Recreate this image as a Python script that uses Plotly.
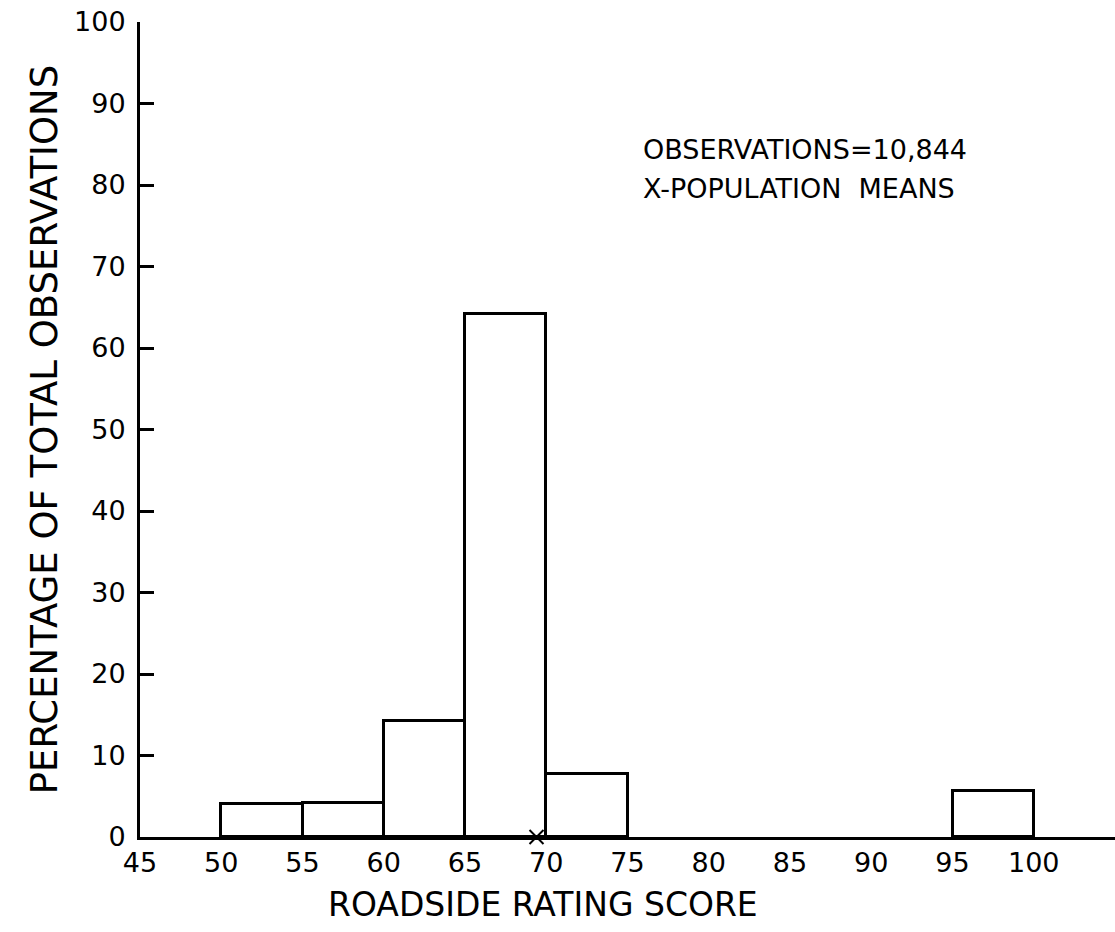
import plotly.graph_objects as go

# histogram bins (left edge, width 5) and percentage of observations
bin_start = [50, 55, 60, 65, 70, 95]
bin_width = 5
percent = [4.0, 4.2, 14.2, 64.2, 7.7, 5.7]

# population mean marker
mean_score = [69.4]
mean_level = [0]

x_ticks = [45, 50, 55, 60, 65, 70, 75, 80, 85, 90, 95, 100]
y_ticks = [0, 10, 20, 30, 40, 50, 60, 70, 80, 90, 100]

notes = ["OBSERVATIONS=10,844", "X-POPULATION  MEANS"]

FONT = "DejaVu Sans"

fig = go.Figure()

fig.add_trace(go.Bar(
    x=bin_start,
    y=percent,
    width=[bin_width] * len(bin_start),
    offset=0,
    marker=dict(color="white", line=dict(color="black", width=3)),
    showlegend=False,
))

fig.add_trace(go.Scatter(
    x=mean_score,
    y=mean_level,
    mode="markers",
    marker=dict(symbol="x-thin", size=14, line=dict(color="black", width=2)),
    showlegend=False,
    cliponaxis=False,
))

# note text in the upper right
for i, t in enumerate(notes):
    fig.add_annotation(
        x=75.8, y=84.3 - i * 4.7, xref="x", yref="y",
        text=t, showarrow=False, xanchor="left",
        font=dict(family=FONT, size=27, color="black"),
    )

# x axis title sits left of the plot centre in the original
fig.add_annotation(
    x=69.8, y=-0.083, xref="x", yref="paper",
    text="ROADSIDE RATING SCORE", showarrow=False,
    xanchor="center", yanchor="middle",
    font=dict(family=FONT, size=33, color="black"),
)

fig.update_layout(
    width=1115,
    height=932,
    margin=dict(l=140, r=0, t=22, b=95),
    plot_bgcolor="white",
    paper_bgcolor="white",
    bargap=0,
    font=dict(family=FONT, color="black"),
    xaxis=dict(
        range=[45, 105],
        tickvals=x_ticks,
        ticks="",
        showline=True,
        linecolor="black",
        linewidth=3,
        showgrid=False,
        zeroline=False,
        tickfont=dict(size=27),
    ),
    yaxis=dict(
        range=[0, 100],
        tickvals=y_ticks,
        ticks="inside",
        ticklen=14,
        tickwidth=3,
        tickcolor="black",
        ticklabelstandoff=6,
        showline=True,
        linecolor="black",
        linewidth=3,
        showgrid=False,
        zeroline=False,
        tickfont=dict(size=27),
        title=dict(text="PERCENTAGE OF TOTAL OBSERVATIONS", font=dict(size=37), standoff=6),
    ),
)

fig.write_html(
    "out.html",
    config={"displayModeBar": False},
    post_script="document.body.style.margin='0px';document.body.style.overflow='hidden';",
)
